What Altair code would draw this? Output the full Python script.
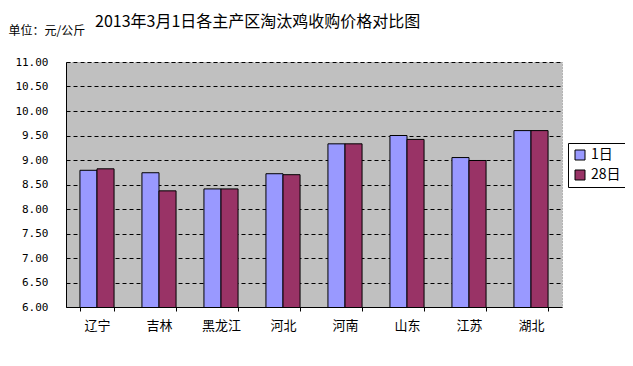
import altair as alt
import pandas as pd

regions = ["辽宁", "吉林", "黑龙江", "河北", "河南", "山东", "江苏", "湖北"]
day1 = [8.79, 8.74, 8.41, 8.72, 9.33, 9.50, 9.05, 9.60]
day28 = [8.82, 8.37, 8.41, 8.70, 9.33, 9.42, 8.99, 9.60]
series = ["1日", "28日"]
colors = ["#9999FF", "#993366"]

rows = []
for r, a, b in zip(regions, day1, day28):
    rows.append({"region": r, "series": series[0], "price": a})
    rows.append({"region": r, "series": series[1], "price": b})
df = pd.DataFrame(rows)

cjk = "Noto Sans CJK SC"

chart = alt.Chart(df).mark_bar(stroke="#000000", strokeWidth=1, clip=True).encode(
    x=alt.X("region:N", sort=regions,
            scale=alt.Scale(paddingInner=0.45, paddingOuter=0.225),
            axis=alt.Axis(title=None, labelAngle=0, labelFont=cjk, labelFontSize=13,
                          labelColor="#000000", labelPadding=8, tickBand="extent",
                          tickSize=4, tickColor="#000000", domainColor="#000000",
                          grid=False)),
    xOffset=alt.XOffset("series:N", sort=series, scale=alt.Scale(paddingInner=0, paddingOuter=0)),
    y=alt.Y("price:Q", scale=alt.Scale(domain=[6, 11], nice=False, zero=False),
            axis=alt.Axis(title="单位：元/公斤", titleAngle=0, titleAlign="left",
                          titleBaseline="alphabetic", titleX=-58, titleY=-28,
                          titleFont=cjk, titleFontSize=12, titleFontWeight="normal",
                          titleColor="#000000",
                          values=[6, 6.5, 7, 7.5, 8, 8.5, 9, 9.5, 10, 10.5, 11],
                          format=".2f", labelFont="DejaVu Sans Mono", labelFontSize=11,
                          labelColor="#000000", ticks=False, labelPadding=18,
                          domainColor="#000000", gridColor="#000000", gridDash=[4, 3],
                          gridWidth=1, gridOpacity=1)),
    color=alt.Color("series:N", sort=series,
                    scale=alt.Scale(domain=series, range=colors),
                    legend=alt.Legend(title=None, orient="none", legendX=502, legendY=81,
                                      fillColor="#FFFFFF", strokeColor="#000000",
                                      padding=5, symbolType="square", symbolSize=100,
                                      symbolStrokeColor="#000000", symbolStrokeWidth=1,
                                      symbolOpacity=1, labelFont=cjk, labelFontSize=14,
                                      labelColor="#000000", rowPadding=6)),
).properties(
    width=496, height=245,
    padding={"left": 58, "top": 54, "right": 63, "bottom": 51},
    autosize="none",
    title=alt.Title("2013年3月1日各主产区淘汰鸡收购价格对比图", anchor="start",
                    frame="group", dx=29, dy=10, font=cjk, fontSize=16, fontWeight="normal",
                    color="#000000"),
).configure(
    background="#FFFFFF",
    view=alt.ViewConfig(fill="#C0C0C0", stroke="#888888", strokeDash=[1, 2]),
)

chart.save("out.html", embed_options={"renderer": "svg", "actions": False})
